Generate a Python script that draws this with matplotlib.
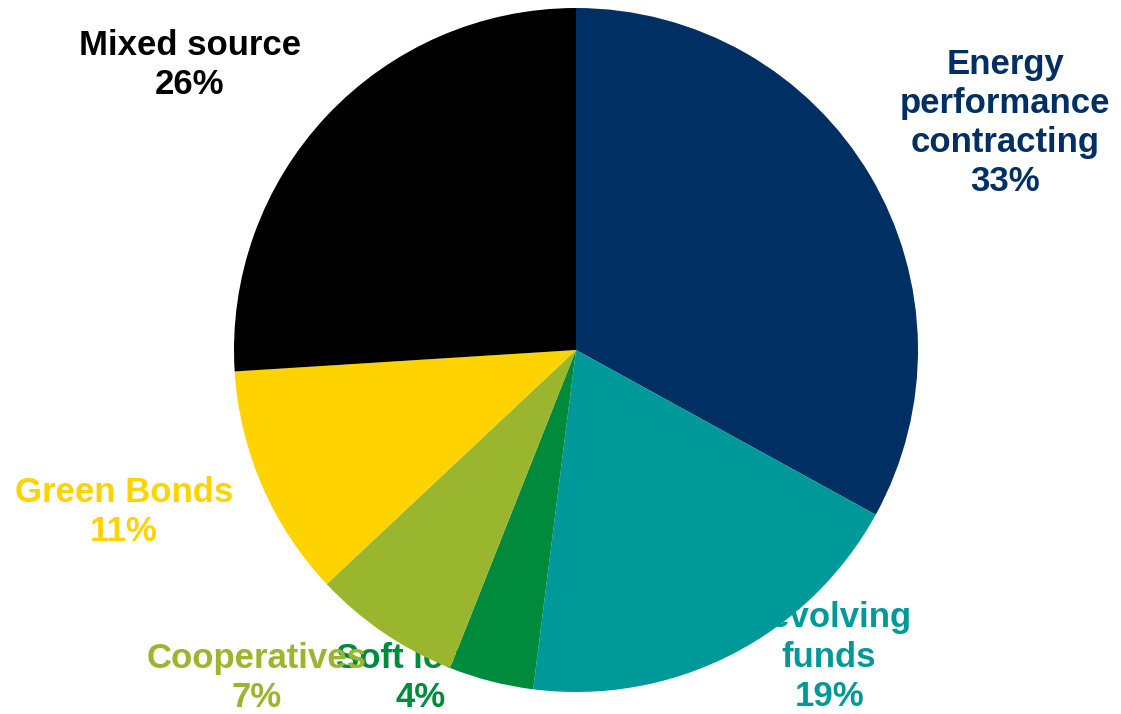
import matplotlib.pyplot as plt

# Financing sources, clockwise from 12 o'clock
labels = ['Energy\nperformance\ncontracting', 'Revolving\nfunds', 'Soft loans',
          'Cooperatives', 'Green Bonds', 'Mixed source']
shares = [33, 19, 4, 7, 11, 26]
colors = ['#003063', '#009999', '#008A3C', '#9AB62F', '#FFD300', '#000000']

# Label anchor points (data units, pie radius = 1)
label_xy = [(1.255, 0.664), (0.74, -0.898), (-0.455, -0.958),
            (-0.933, -0.958), (-1.322, -0.474), (-1.129, 0.833)]

plt.rcParams['font.family'] = ['Liberation Sans', 'DejaVu Sans']

fig = plt.figure(figsize=(11.21, 7.14), dpi=100)
ax = fig.add_axes([0, 0, 1, 1])

wedges, _ = ax.pie(shares, colors=colors, startangle=90, counterclock=False,
                   radius=1.0, wedgeprops=dict(linewidth=0, zorder=2))

# Labels sit underneath the slices
for lab, val, col, (x, y) in zip(labels, shares, colors, label_xy):
    ax.text(x, y, f'{lab}\n{val}%', color=col, fontsize=25, fontweight='bold',
            ha='center', va='center', linespacing=1.24, zorder=0.5)

r = 342.0
ax.set_xlim(-576 / r, (1121 - 576) / r)
ax.set_ylim(-(714 - 350) / r, 350 / r)
ax.set_aspect('equal', adjustable='box')
ax.axis('off')

fig.savefig('out.png', dpi=100)
